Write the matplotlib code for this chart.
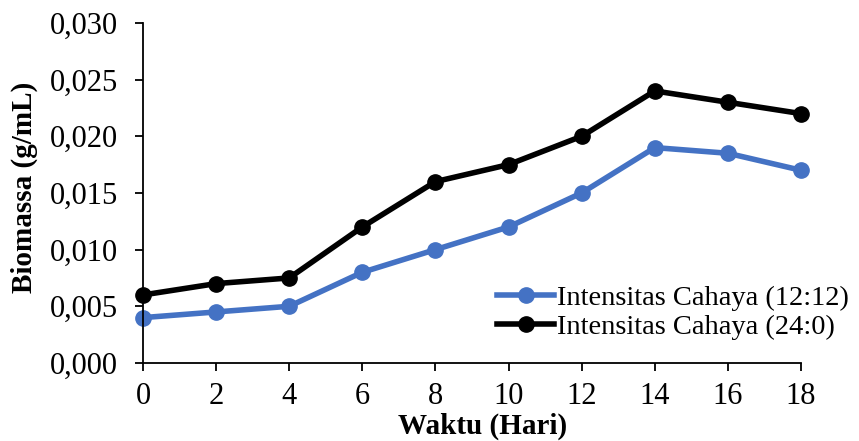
import matplotlib
matplotlib.use('Agg')
import matplotlib.pyplot as plt
from matplotlib.ticker import FuncFormatter

waktu = [0, 2, 4, 6, 8, 10, 12, 14, 16, 18]
biomassa_12_12 = [0.004, 0.0045, 0.005, 0.008, 0.010, 0.012, 0.015, 0.019, 0.0185, 0.017]
biomassa_24_0 = [0.006, 0.007, 0.0075, 0.012, 0.016, 0.0175, 0.020, 0.024, 0.023, 0.022]
label_12_12 = 'Intensitas Cahaya (12:12)'
label_24_0 = 'Intensitas Cahaya (24:0)'

plt.rcParams['font.family'] = ['Liberation Serif', 'DejaVu Serif']

fig = plt.figure(figsize=(8.59, 4.41), dpi=100)
ax = fig.add_axes([0.1665, 0.177, 0.766, 0.771])

ax.plot(waktu, biomassa_12_12, color='#4472C4', lw=4, marker='o', ms=11, label=label_12_12)
ax.plot(waktu, biomassa_24_0, color='black', lw=4, marker='o', ms=11, label=label_24_0)

ax.set_xlim(0, 18)
ax.set_ylim(0, 0.030)
ax.set_xticks(waktu)
ax.set_yticks([0, 0.005, 0.010, 0.015, 0.020, 0.025, 0.030])
ax.yaxis.set_major_formatter(FuncFormatter(lambda v, p: f'{v:.3f}'.replace('.', ',')))
ax.tick_params(labelsize=22, direction='out', length=6, width=1.3)
ax.tick_params(axis='y', pad=12)
ax.tick_params(axis='x', pad=8)
for s in ['top', 'right']:
    ax.spines[s].set_visible(False)
for s in ['left', 'bottom']:
    ax.spines[s].set_linewidth(1.3)
ax.set_xlabel('Waktu (Hari)', fontsize=21, fontweight='bold')
ax.set_ylabel('Biomassa (g/mL)', fontsize=21, fontweight='bold')
ax.xaxis.set_label_coords(0.516, -0.145)
ax.yaxis.set_label_coords(-0.16, 0.515)
for l in ax.lines:
    l.set_clip_on(False)

ax.legend(loc='lower right', bbox_to_anchor=(1.09, 0.035), frameon=False, fontsize=20.5,
          handlelength=2.0, handletextpad=0.1, labelspacing=0.1, borderaxespad=0)

fig.savefig('out.png', dpi=100)
